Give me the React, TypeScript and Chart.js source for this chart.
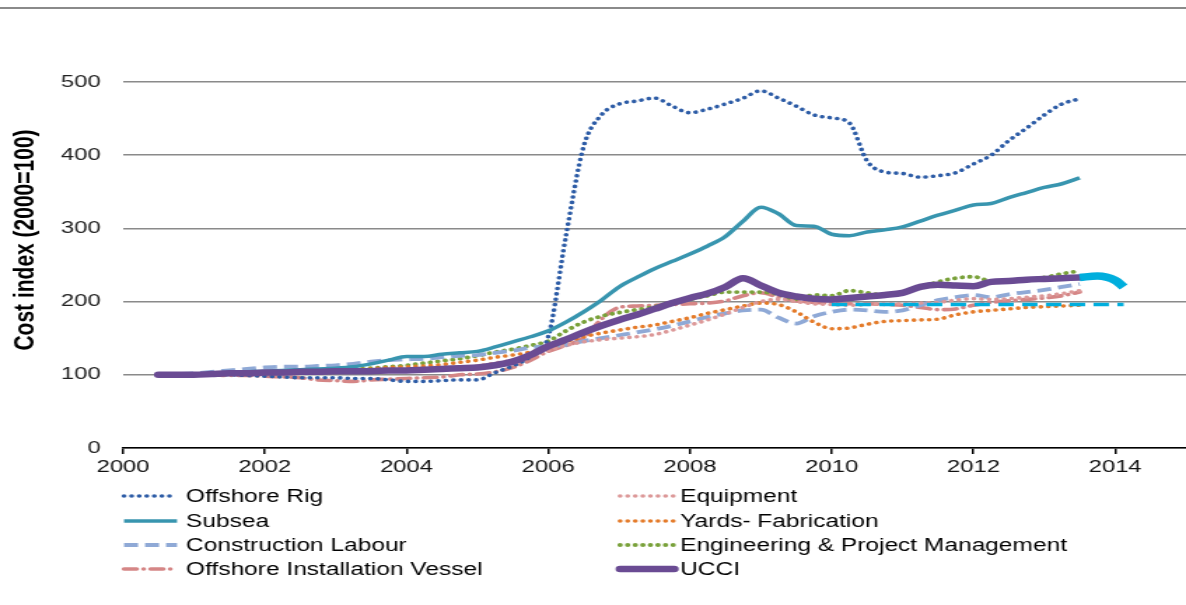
import React, { useEffect, useRef } from 'react';
import { Chart, registerables } from 'chart.js';
Chart.register(...registerables);

// Page / stretch geometry (the reference is horizontally stretched)
const W = 1186;
const H = 605;
const SX = 1.4;
const CW = Math.round(W / SX);

const Y_TITLE = 'Cost index (2000=100)';
const X_TICKS = [2000, 2002, 2004, 2006, 2008, 2010, 2012, 2014];

const QUARTERS = [
  2000.5, 2000.75,
  2001, 2001.25, 2001.5, 2001.75,
  2002, 2002.25, 2002.5, 2002.75,
  2003, 2003.25, 2003.5, 2003.75,
  2004, 2004.25, 2004.5, 2004.75,
  2005, 2005.25, 2005.5, 2005.75,
  2006, 2006.25, 2006.5, 2006.75,
  2007, 2007.25, 2007.5, 2007.75,
  2008, 2008.25, 2008.5, 2008.75,
  2009, 2009.25, 2009.5, 2009.75,
  2010, 2010.25, 2010.5, 2010.75,
  2011, 2011.25, 2011.5, 2011.75,
  2012, 2012.25, 2012.5, 2012.75,
  2013, 2013.25, 2013.5,
];

const offshoreRig = [
  100, 100,
  100, 100, 100, 99,
  98, 97, 96, 96,
  96, 95, 95, 93,
  91, 91, 92, 93,
  93, 103, 112, 125,
  152, 290, 412, 455,
  470, 474, 478, 467,
  458, 463, 470, 478,
  488, 478, 467, 455,
  451, 444, 392, 377,
  375, 370, 372, 376,
  388, 400, 420, 437,
  455, 470, 477,
];

const equipment = [
  100, 100,
  100, 101, 101, 102,
  102, 103, 103, 104,
  104, 105, 105, 106,
  106, 107, 108, 110,
  112, 116, 120, 126,
  133, 140, 145, 148,
  150, 152, 155, 161,
  168, 175, 183, 192,
  200, 203, 200, 197,
  196, 195, 196, 197,
  197, 198, 199, 202,
  204, 203, 204, 206,
  208, 211, 215,
];

const subsea = [
  100, 100,
  101, 102, 103, 104,
  105, 106, 107, 108,
  109, 111, 115, 120,
  125, 125, 128, 130,
  132, 138, 145, 152,
  160, 172, 186, 202,
  220, 233, 245, 255,
  265, 276, 289, 310,
  329, 320, 304, 303,
  292, 290, 295, 298,
  302, 310, 318, 325,
  332, 334, 342, 349,
  356, 361, 369,
];

const yardsFabrication = [
  100, 100,
  101, 102, 103, 104,
  104, 105, 106, 106,
  107, 107, 108, 110,
  111, 112, 114, 117,
  120, 124, 127, 131,
  137, 145, 152, 157,
  161, 165, 168, 173,
  178, 184, 189, 194,
  198, 196, 186, 172,
  163, 164, 169, 173,
  174, 175, 176, 182,
  186, 188, 190, 192,
  193, 194, 195,
];

const constructionLabour = [
  100, 101,
  102, 104, 106, 108,
  110, 111, 111, 112,
  113, 115, 118, 120,
  121, 122, 124, 126,
  127, 130, 133, 137,
  139, 141, 146, 150,
  154, 158, 162, 167,
  173, 179, 184, 188,
  189, 178, 170, 180,
  186, 189, 188, 186,
  188, 195, 202, 206,
  209, 206, 210, 213,
  216, 220, 224,
];

const engineeringPM = [
  100, 100,
  101, 102, 103, 104,
  104, 105, 106, 106,
  107, 108, 109, 111,
  113, 116, 119, 122,
  126, 131, 135, 140,
  146, 160, 172, 180,
  185, 189, 193, 199,
  203, 208, 213, 213,
  213, 210, 203, 209,
  208, 215, 212, 209,
  213, 219, 227, 232,
  234, 228, 229, 230,
  233, 238, 242,
];

const installationVessel = [
  100, 100,
  100, 100, 99, 99,
  98, 97, 96, 93,
  92, 91, 93, 94,
  95, 96, 97, 100,
  101, 104, 110, 120,
  132, 140, 150, 176,
  192, 194, 195, 196,
  197, 198, 201, 208,
  212, 206, 201, 199,
  198, 197, 197, 196,
  195, 192, 189, 190,
  195, 199, 201, 203,
  205, 208, 213,
];

const ucci = [
  100, 100,
  100, 101, 102, 102,
  103, 103, 104, 104,
  105, 105, 105, 106,
  106, 107, 108, 109,
  110, 113, 118, 127,
  139, 148, 158, 167,
  175, 182, 190, 198,
  205, 211, 220, 232,
  222, 212, 207, 204,
  203, 205, 207, 209,
  212, 220, 223, 222,
  221, 227, 228, 230,
  231, 232, 233,
];

const FORECAST_X = [2013.5, 2013.75, 2014.0, 2014.12];
const forecastUcci = [233, 235, 229, 220];

const TARGET_X = [2010.0, 2014.12];
const targetLevel = [196, 196];

const LEGEND_LABELS = [
  'Offshore Rig',
  'Subsea',
  'Construction Labour',
  'Offshore Installation Vessel',
  'Equipment',
  'Yards- Fabrication',
  'Engineering & Project Management',
  'UCCI',
];

type Style = { color: string; width: number; dash: number[]; cap: CanvasLineCap };

const STYLES: Record<string, Style> = {
  'Offshore Rig': { color: '#2D5CA6', width: 3.6, dash: [0.01, 5.4], cap: 'round' },
  'Subsea': { color: '#3895AF', width: 3.5, dash: [], cap: 'butt' },
  'Construction Labour': { color: '#8FA9D6', width: 3.8, dash: [10, 5], cap: 'butt' },
  'Offshore Installation Vessel': { color: '#D58686', width: 3.6, dash: [9, 5, 0.01, 5], cap: 'round' },
  'Equipment': { color: '#DC9898', width: 3.6, dash: [0.01, 5.4], cap: 'round' },
  'Yards- Fabrication': { color: '#E47B2A', width: 3.6, dash: [0.01, 5.4], cap: 'round' },
  'Engineering & Project Management': { color: '#79A13A', width: 3.9, dash: [0.01, 5.4], cap: 'round' },
  'UCCI': { color: '#6A4B93', width: 6.5, dash: [], cap: 'round' },
};

const FONT = '"Liberation Sans", Arial, sans-serif';

export default function App() {
  const ref = useRef<HTMLCanvasElement | null>(null);

  useEffect(() => {
    document.body.style.margin = '0';
    const canvas = ref.current;
    if (!canvas) return;

    const pts = (xs: number[], ys: number[]) => xs.map((x, i) => ({ x, y: ys[i] }));

    const line = (label: string, ys: number[], order: number) => {
      const s = STYLES[label];
      return {
        label,
        data: pts(QUARTERS, ys),
        borderColor: s.color,
        borderWidth: s.width,
        borderDash: s.dash,
        borderCapStyle: s.cap,
        borderJoinStyle: 'round' as const,
        pointRadius: 0,
        fill: false,
        cubicInterpolationMode: 'monotone' as const,
        order,
      };
    };

    const datasets: any[] = [
      line('Offshore Rig', offshoreRig, 5),
      line('Equipment', equipment, 6),
      line('Subsea', subsea, 4),
      line('Yards- Fabrication', yardsFabrication, 6),
      line('Construction Labour', constructionLabour, 6),
      line('Engineering & Project Management', engineeringPM, 6),
      line('Offshore Installation Vessel', installationVessel, 6),
      line('UCCI', ucci, 2),
      {
        label: 'UCCI forecast',
        data: pts(FORECAST_X, forecastUcci),
        borderColor: '#00AEDD',
        borderWidth: 7.5,
        borderCapStyle: 'butt',
        pointRadius: 0,
        fill: false,
        cubicInterpolationMode: 'monotone',
        order: 1,
      },
      {
        label: 'Target',
        data: pts(TARGET_X, targetLevel),
        borderColor: '#00AEDD',
        borderWidth: 3.5,
        borderDash: [11, 6],
        pointRadius: 0,
        fill: false,
        order: 3,
      },
    ];

    const decor = {
      id: 'decor',
      afterDraw(chart: any) {
        const c: CanvasRenderingContext2D = chart.ctx;
        c.save();
        // top rule
        c.strokeStyle = '#8a8a8a';
        c.lineWidth = 2;
        c.setLineDash([]);
        c.beginPath();
        c.moveTo(0, 8);
        c.lineTo(chart.width, 8);
        c.stroke();

        // y axis title
        c.save();
        c.translate(18, 240);
        c.rotate(-Math.PI / 2);
        c.font = `bold 21px ${FONT}`;
        c.fillStyle = '#000';
        c.textAlign = 'center';
        c.textBaseline = 'middle';
        c.fillText(Y_TITLE, 0, 0);
        c.restore();

        // legend (two columns)
        const cols = [
          { x0: 124 / SX, x1: 177 / SX, tx: 186 / SX },
          { x0: 620 / SX, x1: 674 / SX, tx: 680 / SX },
        ];
        const rows = [496, 521, 545, 569];
        LEGEND_LABELS.forEach((label, i) => {
          const col = cols[Math.floor(i / 4)];
          const y = rows[i % 4];
          const s = STYLES[label];
          c.strokeStyle = s.color;
          c.lineWidth = s.width;
          c.lineCap = s.cap;
          c.setLineDash(s.dash);
          c.beginPath();
          c.moveTo(col.x0, y);
          c.lineTo(col.x1, y);
          c.stroke();
          c.setLineDash([]);
          c.font = `17.5px ${FONT}`;
          c.fillStyle = '#000';
          c.textAlign = 'left';
          c.textBaseline = 'middle';
          c.fillText(label, col.tx, y + 1);
        });
        c.restore();
      },
    };

    const chart = new Chart(canvas, {
      type: 'line',
      data: { datasets },
      options: {
        responsive: false,
        animation: false,
        devicePixelRatio: 1,
        layout: { padding: { top: 82, right: 0, left: 0, bottom: 0 } },
        plugins: { legend: { display: false }, tooltip: { enabled: false } },
        scales: {
          x: {
            type: 'linear',
            min: 2000,
            max: 2015,
            afterBuildTicks: (scale: any) => {
              scale.ticks = X_TICKS.map((v) => ({ value: v }));
            },
            afterFit: (scale: any) => {
              scale.height = H - 448;
            },
            grid: {
              drawOnChartArea: false,
              drawTicks: true,
              tickLength: 6,
              color: '#000',
              lineWidth: 1.5,
            },
            border: { display: true, color: '#000', width: 1.5 },
            ticks: {
              autoSkip: false,
              maxRotation: 0,
              padding: 3,
              color: '#111',
              font: { family: FONT, size: 17 },
              callback: (v: any) => String(v),
            },
          },
          y: {
            min: 0,
            max: 500,
            afterFit: (scale: any) => {
              scale.width = 123 / SX;
            },
            grid: { color: '#8a8a8a', lineWidth: 1.5, drawTicks: false },
            border: { display: false },
            ticks: {
              stepSize: 100,
              padding: 16,
              color: '#222',
              font: { family: FONT, size: 17 },
              callback: (v: any) => String(v),
            },
          },
        },
      },
      plugins: [decor],
    });

    return () => chart.destroy();
  }, []);

  return (
    <div style={{ width: W, height: H, background: '#fff', position: 'relative' }}>
      <canvas
        ref={ref}
        width={CW}
        height={H}
        style={{ width: `${W}px`, height: `${H}px`, display: 'block' }}
      />
    </div>
  );
}
